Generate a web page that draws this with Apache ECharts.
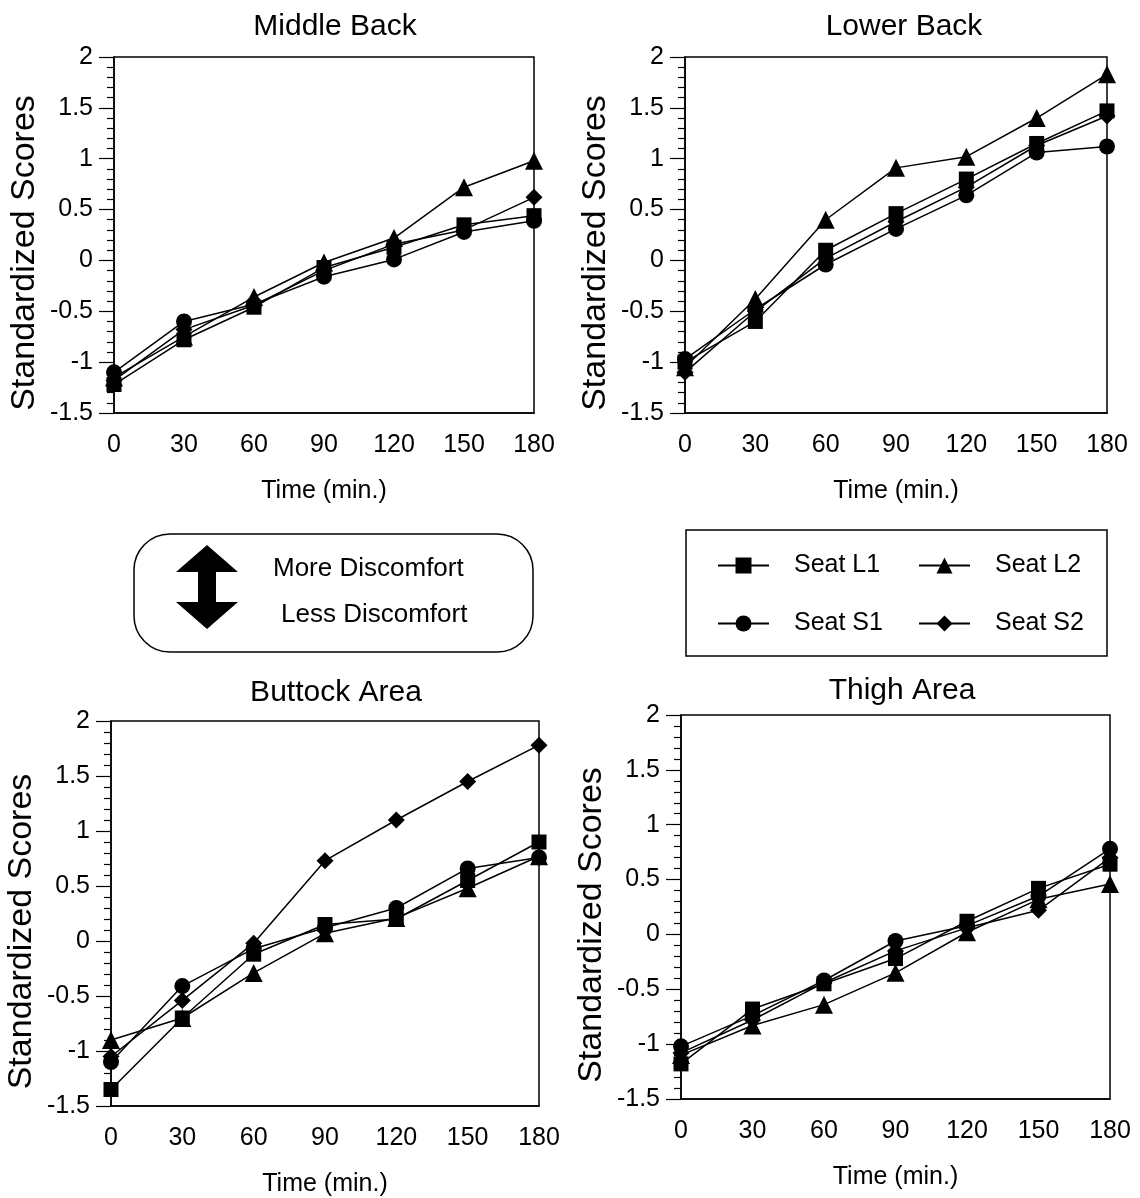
<!DOCTYPE html>
<html>
<head>
<meta charset="utf-8">
<script src="https://cdn.jsdelivr.net/npm/echarts@6/dist/echarts.min.js"></script>
<style>
html,body{margin:0;padding:0;background:#fff;}
#chart{width:1140px;height:1198px;}
</style>
</head>
<body>
<div id="chart"></div>
<script>
// ---- Data ----
const times = [0, 30, 60, 90, 120, 150, 180];
const seriesNames = ['Seat L1', 'Seat L2', 'Seat S1', 'Seat S2'];
const panelTitles = ['Middle Back', 'Lower Back', 'Buttock Area', 'Thigh Area'];
const yTicks = [-1.5, -1, -0.5, 0, 0.5, 1, 1.5, 2];

// Middle Back
const mbL1 = [-1.22, -0.78, -0.46, -0.07, 0.13, 0.35, 0.44];
const mbL2 = [-1.15, -0.75, -0.36, -0.02, 0.22, 0.72, 0.98];
const mbS1 = [-1.10, -0.60, -0.43, -0.16, 0.01, 0.28, 0.39];
const mbS2 = [-1.18, -0.68, -0.44, -0.10, 0.16, 0.30, 0.62];
// Lower Back
const lbL1 = [-1.00, -0.60, 0.10, 0.46, 0.80, 1.15, 1.47];
const lbL2 = [-1.05, -0.38, 0.40, 0.91, 1.02, 1.40, 1.83];
const lbS1 = [-0.97, -0.48, -0.04, 0.31, 0.64, 1.06, 1.12];
const lbS2 = [-1.10, -0.50, 0.02, 0.38, 0.72, 1.13, 1.42];
// Buttock Area
const baL1 = [-1.35, -0.70, -0.12, 0.15, 0.20, 0.55, 0.90];
const baL2 = [-0.90, -0.70, -0.29, 0.07, 0.21, 0.48, 0.77];
const baS1 = [-1.10, -0.41, -0.07, 0.12, 0.30, 0.66, 0.76];
const baS2 = [-1.05, -0.54, -0.02, 0.73, 1.10, 1.45, 1.78];
// Thigh Area
const taL1 = [-1.18, -0.68, -0.45, -0.22, 0.12, 0.42, 0.64];
const taL2 = [-1.10, -0.83, -0.64, -0.35, 0.02, 0.32, 0.46];
const taS1 = [-1.02, -0.74, -0.42, -0.06, 0.08, 0.35, 0.78];
const taS2 = [-1.08, -0.78, -0.44, -0.15, 0.06, 0.22, 0.70];

const panelData = [
  [mbL1, mbL2, mbS1, mbS2],
  [lbL1, lbL2, lbS1, lbS2],
  [baL1, baL2, baS1, baS2],
  [taL1, taL2, taS1, taS2]
];

// ---- Layout / style ----
const FONT = '"Liberation Sans", Arial, Helvetica, sans-serif';
const symbols = ['rect', 'triangle', 'circle', 'diamond'];
const symbolSizes = [15, 18, 16, 17];
const grids = [
  {left: 114, top: 57, width: 420, height: 356},
  {left: 685, top: 57, width: 422, height: 356},
  {left: 111, top: 721, width: 428, height: 386},
  {left: 681, top: 715, width: 429, height: 384}
];
const titlePos = [
  {x: 330, y: 7}, {x: 899, y: 7}, {x: 331, y: 673}, {x: 897, y: 671}
];

const option = {
  backgroundColor: '#fff',
  animation: false,
  textStyle: {fontFamily: FONT, color: '#000'},
  title: panelTitles.map((t, i) => ({
    text: t, left: titlePos[i].x, top: titlePos[i].y, textAlign: 'center',
    textStyle: {fontFamily: FONT, fontSize: 30, fontWeight: 'normal', color: '#000'}
  })),
  grid: grids.map(g => Object.assign({show: true, borderColor: '#000', borderWidth: 1.5, backgroundColor: 'transparent'}, g)),
  xAxis: grids.map((g, i) => ({
    type: 'value', gridIndex: i, min: 0, max: 180, interval: 30,
    name: 'Time (min.)', nameLocation: 'middle', nameGap: 66,
    nameTextStyle: {fontFamily: FONT, fontSize: 25, color: '#000'},
    axisLine: {show: true, onZero: false, lineStyle: {color: '#000', width: 1.5}},
    axisTick: {show: false},
    splitLine: {show: false},
    axisLabel: {fontFamily: FONT, fontSize: 25, color: '#000', margin: 20}
  })),
  yAxis: grids.map((g, i) => ({
    type: 'value', gridIndex: i, min: -1.5, max: 2, interval: 0.5,
    name: 'Standardized Scores', nameLocation: 'middle', nameGap: 72,
    nameTextStyle: {fontFamily: FONT, fontSize: 34, color: '#000', padding: [0, 36, 0, 0]},
    axisLine: {show: true, onZero: false, lineStyle: {color: '#000', width: 1.5}},
    axisTick: {show: true, inside: false, length: 15, lineStyle: {color: '#000', width: 1.2}},
    minorTick: {show: true, splitNumber: 5, length: 7, lineStyle: {color: '#000', width: 1.2}},
    splitLine: {show: false},
    minorSplitLine: {show: false},
    axisLabel: {fontFamily: FONT, fontSize: 25, color: '#000', margin: 21}
  })),
  legend: seriesNames.map((n, i) => ({
    data: [n], selectedMode: false, orient: 'horizontal',
    left: i % 2 === 0 ? 712 : 913, top: i < 2 ? 548 : 606,
    itemWidth: 51, itemHeight: 20,
    textStyle: {fontFamily: FONT, fontSize: 25, color: '#000', padding: [0, 0, 0, 20]}
  })),
  series: [],
  graphic: [
    // legend frame
    {type: 'rect', shape: {x: 686, y: 530, width: 421, height: 126}, style: {fill: 'none', stroke: '#000', lineWidth: 1.5}, z: 0},
    // discomfort key
    {type: 'rect', shape: {x: 134, y: 534, width: 399, height: 118, r: 36}, style: {fill: 'none', stroke: '#000', lineWidth: 1.5}, z: 0},
    {type: 'polygon', shape: {points: [[207, 545], [238, 572], [216, 572], [216, 602], [238, 602], [207, 629], [176, 602], [198, 602], [198, 572], [176, 572]]}, style: {fill: '#000'}},
    {type: 'text', left: 273, top: 556, style: {text: 'More Discomfort', font: '26px ' + FONT, fill: '#000'}},
    {type: 'text', left: 281, top: 602, style: {text: 'Less Discomfort', font: '26px ' + FONT, fill: '#000'}}
  ]
};

panelData.forEach((arrs, p) => {
  arrs.forEach((vals, s) => {
    option.series.push({
      name: seriesNames[s], type: 'line', xAxisIndex: p, yAxisIndex: p,
      data: times.map((t, k) => [t, vals[k]]),
      symbol: symbols[s], symbolSize: symbolSizes[s], showAllSymbol: true,
      itemStyle: {color: '#000'},
      lineStyle: {color: '#000', width: 1.5},
      clip: false
    });
  });
});

const chart = echarts.init(document.getElementById('chart'), null, {renderer: 'canvas'});
chart.setOption(option);
</script>
</body>
</html>
